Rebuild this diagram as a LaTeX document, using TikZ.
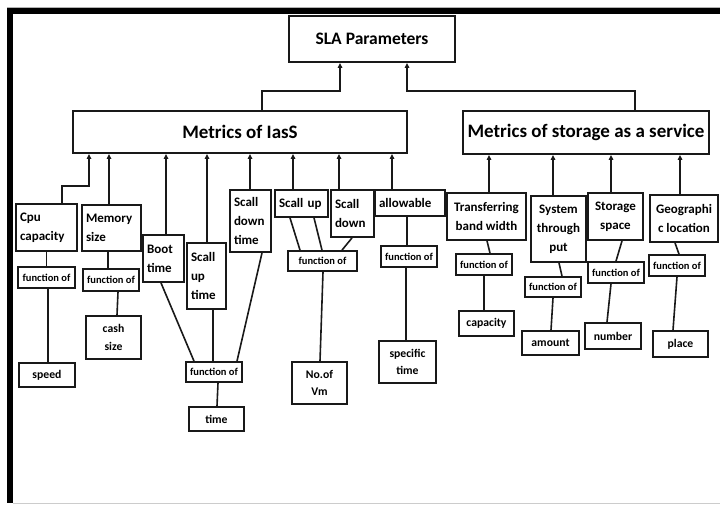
\documentclass[tikz,border=0pt]{standalone}
\usepackage{fontspec}
\setmainfont{Carlito}
\usetikzlibrary{arrows.meta,calc}
% arrow from a child box up to the parent box, shifted sideways by #2
\newcommand\linkup[3]{\draw[arr] ($(#1.north)+(#2,0)$) -- ($(#1.north |- #3.south)+(#2,0)$);}
% plain line from the bottom of #1 to the top of #3, with sideways shifts
\newcommand\wire[4]{\draw[link] ($(#1.south)+(#2,0)$) -- ($(#3.north)+(#4,0)$);}
\begin{document}
\begin{tikzpicture}[x=1pt,y=-1pt,
  box/.style={draw=black!90, line width=1.8pt, inner xsep=4pt, inner ysep=1pt,
              font=\bfseries\fontsize{13}{19}\selectfont, align=center},
  lbox/.style={box, align=left},
  head/.style={box, inner xsep=2pt, font=\bfseries\fontsize{19}{22}\selectfont},
  fbox/.style={box, inner xsep=2pt, font=\bfseries\fontsize{10.5}{12}\selectfont},
  leaf/.style={box, font=\bfseries\fontsize{11.7}{17.7}\selectfont},
  arr/.style={line width=1.6pt, draw=black!90, -{Triangle[length=5pt,width=4.5pt]}},
  link/.style={line width=1.6pt, draw=black!90},
]
\useasboundingbox (0,0) rectangle (720,506);
\fill[white] (0,0) rectangle (720,506);

% page frame
\draw[gray!60, line width=1pt] (7,7.3) -- (720,7.3);
\fill[black] (7,8) rectangle (720,14);
\fill[black] (7,8) rectangle (13,503);
\draw[gray!40, line width=1pt] (13,503.5) -- (720,503.5);

% top levels
\node[head, font=\bfseries\fontsize{17.5}{20}\selectfont, minimum width=166pt, minimum height=46pt] (sla) at (372,39) {SLA Parameters};
\node[head, minimum width=334pt, minimum height=42pt] (iaas) at (240,132) {Metrics of IasS};
\node[head, minimum width=246pt, minimum height=43pt] (stor) at (586,132.5) {Metrics of storage as a service};

% IaaS metrics
\node[lbox, text width=53pt, minimum height=47pt] (cpu) at (46.5,227.5) {Cpu\\capacity};
\node[lbox, text width=51pt, minimum height=46pt] (mem) at (111.5,228) {Memory\\size};
\node[lbox, text width=33pt, minimum height=47pt] (boot) at (163.5,258.5) {Boot\\time};
\node[lbox, text width=31pt, minimum height=66pt] (sut) at (206.5,276) {Scall\\up\\time};
\node[lbox, text width=33pt, minimum height=62pt] (sdt) at (250.5,221) {Scall\\down\\time};
\node[lbox, text width=45pt, minimum height=27pt] (su) at (301.5,203.5) {Scall up};
\node[lbox, text width=35pt, minimum height=47pt] (sd) at (352.5,213.5) {Scall\\down};
\node[lbox, text width=62pt, minimum height=26pt] (allow) at (410,203) {allowable};

% storage metrics
\node[box, minimum width=79pt, minimum height=47pt] (tbw) at (486.5,216.5) {Transferring\\band width};
\node[box, minimum width=55pt, minimum height=66pt] (stp) at (558.5,229) {System\\through\\put};
\node[box, minimum width=55pt, minimum height=47pt] (ss) at (615.5,216.5) {Storage\\space};
\node[box, minimum width=68pt, minimum height=47pt] (geo) at (684,218.5) {Geographi\\c location};

% "function of" boxes
\node[fbox, minimum width=57pt, minimum height=21pt] (f1) at (46.5,277.5) {function of};
\node[fbox, minimum width=56pt, minimum height=22pt] (f2) at (111,280) {function of};
\node[fbox, minimum width=56pt, minimum height=20pt] (f3) at (214,372) {function of};
\node[fbox, minimum width=69pt, minimum height=20pt] (f4) at (322.5,261) {function of};
\node[fbox, minimum width=56pt, minimum height=21pt] (f5) at (409,256.5) {function of};
\node[fbox, minimum width=56pt, minimum height=21pt] (f6) at (484,264.5) {function of};
\node[fbox, minimum width=56pt, minimum height=20pt] (f7) at (553,287) {function of};
\node[fbox, minimum width=56pt, minimum height=21pt] (f8) at (616,272.5) {function of};
\node[fbox, minimum width=56pt, minimum height=21pt] (f9) at (677,265.5) {function of};

% leaves
\node[leaf, minimum width=56pt, minimum height=24pt] (speed) at (47,375) {speed};
\node[leaf, minimum width=55pt, minimum height=43pt] (cash) at (113.5,337.5) {cash\\size};
\node[leaf, minimum width=55pt, minimum height=24pt] (time) at (216.5,419) {time};
\node[leaf, minimum width=55pt, minimum height=42pt] (vm) at (319.5,383) {No.of\\Vm};
\node[leaf, minimum width=57pt, minimum height=42pt] (spec) at (407.5,362) {specific\\time};
\node[leaf, minimum width=55pt, minimum height=25pt] (cap) at (486.5,323.5) {capacity};
\node[leaf, minimum width=57pt, minimum height=24pt] (amount) at (550.5,343) {amount};
\node[leaf, minimum width=56pt, minimum height=26pt] (number) at (613,336) {number};
\node[leaf, minimum width=55pt, minimum height=26pt] (place) at (680.5,344) {place};

% connectors to SLA Parameters
\draw[arr] ($(iaas.north)+(22,0)$) -- ++(0,-19) -| ($(sla.south)+(-32,0)$);
\draw[arr] ($(stor.north)+(49,0)$) -- ++(0,-19) -| ($(sla.south)+(35,0)$);

% connectors to Metrics of IasS
\draw[arr] ($(cpu.north)+(15.5,0)$) -- ++(0,-17) -| ($(iaas.south)+(-151,0)$);
\linkup{mem}{-2.5}{iaas}
\linkup{boot}{2.5}{iaas}
\linkup{sut}{0.5}{iaas}
\linkup{sdt}{-0.5}{iaas}
\linkup{su}{-8.5}{iaas}
\linkup{sd}{-13.5}{iaas}
\linkup{allow}{-18}{iaas}

% connectors to Metrics of storage as a service
\linkup{tbw}{2.5}{stor}
\linkup{stp}{-5.5}{stor}
\linkup{ss}{-4.5}{stor}
\linkup{geo}{-4}{stor}

% metric -> function of -> quantity
\wire{cpu}{0}{f1}{0}
\wire{f1}{1.5}{speed}{1}
\wire{mem}{-3.5}{f2}{-3}
\wire{f2}{7}{cash}{3.5}
\wire{boot}{-2.5}{f3}{-20}
\wire{sut}{6.5}{f3}{-1}
\wire{sdt}{11.5}{f3}{23}
\wire{f3}{4}{time}{0.5}
\wire{su}{-11.5}{f4}{-22.5}
\wire{su}{12.5}{f4}{-0.5}
\wire{sd}{-0.5}{f4}{19.5}
\wire{f4}{0.5}{vm}{0.5}
\wire{allow}{-3}{f5}{-2}
\wire{f5}{-3}{spec}{-1.5}
\wire{tbw}{0.5}{f6}{6}
\wire{f6}{0}{cap}{-2.5}
\wire{stp}{0.5}{f7}{9}
\wire{f7}{0}{amount}{0.5}
\wire{ss}{6.5}{f8}{0}
\wire{f8}{-5}{number}{-6}
\wire{geo}{-9}{f9}{2}
\wire{f9}{0}{place}{-7.5}
\end{tikzpicture}
\end{document}
